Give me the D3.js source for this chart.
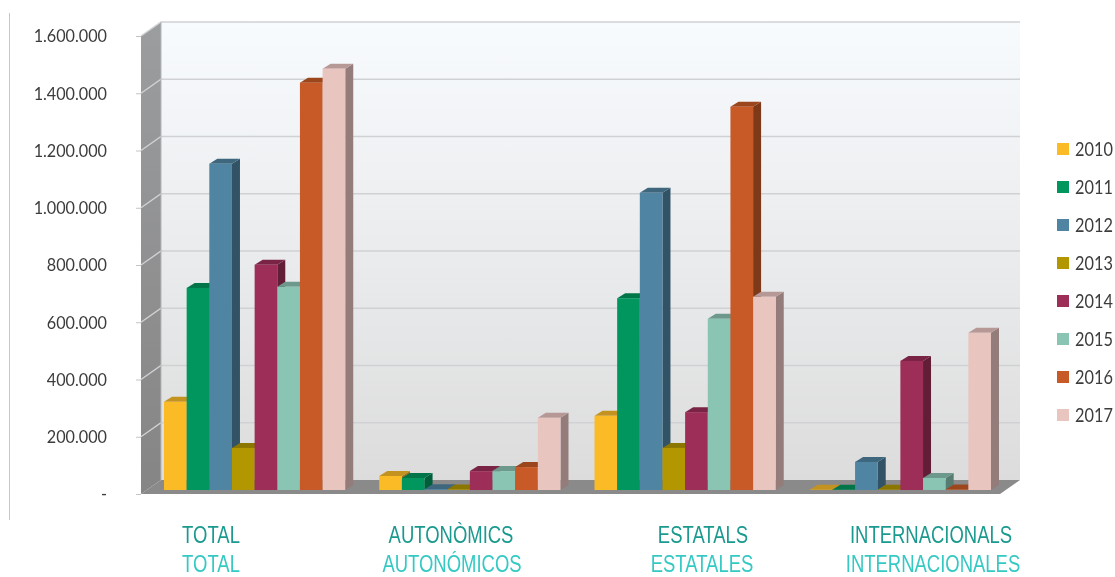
<!DOCTYPE html>
<html>
<head>
<meta charset="utf-8">
<script src="https://cdn.jsdelivr.net/npm/d3@7"></script>
<style>
  html, body { margin: 0; padding: 0; background: #fff; }
  svg { display: block; filter: blur(0.4px); }
  .tick-label { font-family: "Lato", sans-serif; font-weight: 400; fill: #3c3c3c; }
</style>
</head>
<body>
<div id="chart"></div>
<script>
// data
var years = ["2010", "2011", "2012", "2013", "2014", "2015", "2016", "2017"];
var groupsCa = ["TOTAL", "AUTONÒMICS", "ESTATALS", "INTERNACIONALS"];
var groupsEs = ["TOTAL", "AUTONÓMICOS", "ESTATALES", "INTERNACIONALES"];
var total = [308000, 706000, 1140000, 147000, 787000, 710000, 1423000, 1472000];
var autonomics = [49000, 42000, 3000, 2000, 66000, 66000, 80000, 252000];
var estatals = [259000, 670000, 1038000, 147000, 272000, 598000, 1339000, 675000];
var internacionals = [1000, 1000, 98000, 1000, 451000, 42000, 2000, 549000];
var yTicks = [0, 200000, 400000, 600000, 800000, 1000000, 1200000, 1400000, 1600000];
var colors = ["#fbbb27", "#00965e", "#4f84a2", "#b39700", "#9c2e58", "#8ac5b3", "#c85a27", "#e9c5c0"];

var values = [total, autonomics, estatals, internacionals];

var width = 1115, height = 577;
var left = 141, right = 1000, bottom = 494, top_ = 36;
var depthX = 20, depthY = 14;     // wall depth
var barDX = 8, barDY = 5;         // bar depth
var barLift = 4;                  // bars stand a little behind the front edge of the floor
var narrow = 0.9;                 // the original font is narrower than Lato
var labelNarrow = 0.77;

var svg = d3.select("#chart").append("svg")
    .attr("width", width)
    .attr("height", height);

var y = d3.scaleLinear().domain([0, 1600000]).range([bottom, top_]);
var x0 = d3.scaleBand().domain(groupsCa).range([left + 6, left + 867]).paddingInner(0.158).paddingOuter(0.079);
var x1 = d3.scaleBand().domain(years).range([0, x0.bandwidth()]);

var defs = svg.append("defs");
var wallGrad = defs.append("linearGradient").attr("id", "wall").attr("x1", 0).attr("y1", 0).attr("x2", 0).attr("y2", 1);
wallGrad.append("stop").attr("offset", "0%").attr("stop-color", "#f8fbfe");
wallGrad.append("stop").attr("offset", "100%").attr("stop-color", "#dcdcdc");
var sideGrad = defs.append("linearGradient").attr("id", "side").attr("x1", 0).attr("y1", 0).attr("x2", 0).attr("y2", 1);
sideGrad.append("stop").attr("offset", "0%").attr("stop-color", "#9c9d9f");
sideGrad.append("stop").attr("offset", "100%").attr("stop-color", "#858585");

function poly(pts) {
    return pts.map(function(p) { return p.join(","); }).join(" ");
}

// line on the far left
svg.append("line")
    .attr("x1", 9.5).attr("x2", 9.5)
    .attr("y1", 13).attr("y2", 520)
    .attr("stroke", "#c8c8c8")
    .attr("stroke-width", 1);

// walls and floor
svg.append("rect")
    .attr("x", left + depthX).attr("y", top_ - depthY)
    .attr("width", right - left).attr("height", bottom - top_)
    .attr("fill", "url(#wall)");
svg.append("polygon")
    .attr("points", poly([[left, top_], [left + depthX, top_ - depthY], [left + depthX, bottom - depthY], [left, bottom]]))
    .attr("fill", "url(#side)");
svg.append("polygon")
    .attr("points", poly([[left, bottom], [left + depthX, bottom - depthY], [right + depthX, bottom - depthY], [right, bottom]]))
    .attr("fill", "#8a8a8a");

// gridlines, with the diagonal bit on the side wall
var grid = svg.append("g");
grid.selectAll("polyline")
    .data(yTicks.slice(1))
    .enter().append("polyline")
    .attr("points", function(d) {
        return poly([[left, y(d)], [left + depthX, y(d) - depthY], [right + depthX, y(d) - depthY]]);
    })
    .attr("fill", "none")
    .attr("stroke", "#cfd1d4")
    .attr("stroke-width", 1.4);
svg.append("line")
    .attr("x1", left + depthX).attr("x2", left + depthX)
    .attr("y1", top_ - depthY).attr("y2", bottom - depthY)
    .attr("stroke", "#b5b6b8");

// y axis
var fmt = d3.formatLocale({decimal: ",", thousands: ".", grouping: [3], currency: ["", ""]}).format(",");
var axis = d3.axisLeft(y)
    .tickValues(yTicks)
    .tickSize(5)
    .tickPadding(29)
    .tickFormat(function(d) { return d === 0 ? "-" : fmt(d); });
var axisG = svg.append("g")
    .attr("transform", "translate(" + left + ",0)")
    .call(axis);
axisG.select(".domain").remove();
axisG.selectAll(".tick line").attr("stroke", "#c4c4c4");
axisG.selectAll("text")
    .attr("class", "tick-label")
    .attr("font-size", 18)
    .attr("x", -34 / narrow)
    .attr("transform", "scale(" + narrow + ",1)");

// bars
var group = svg.append("g").selectAll("g")
    .data(groupsCa)
    .enter().append("g")
    .attr("transform", function(d) { return "translate(" + x0(d) + "," + (-barLift) + ")"; });

group.each(function(g, gi) {
    var bars = d3.select(this).selectAll("g")
        .data(years.map(function(yr, i) { return {year: yr, value: values[gi][i], color: colors[i]}; }))
        .enter().append("g");

    // side face
    bars.append("polygon")
        .attr("points", function(d) {
            var a = x1(d.year) + x1.bandwidth();
            return poly([[a, y(d.value)], [a + barDX, y(d.value) - barDY], [a + barDX, y(0) - barDY], [a, y(0)]]);
        })
        .attr("fill", function(d) { return d3.color(d.color).darker(1.3); });
    // top face
    bars.append("polygon")
        .attr("points", function(d) {
            var a = x1(d.year), b = a + x1.bandwidth();
            return poly([[a, y(d.value)], [a + barDX, y(d.value) - barDY], [b + barDX, y(d.value) - barDY], [b, y(d.value)]]);
        })
        .attr("fill", function(d) { return d3.color(d.color).darker(0.7); });
    // front face
    bars.append("rect")
        .attr("x", function(d) { return x1(d.year); })
        .attr("y", function(d) { return y(d.value); })
        .attr("width", x1.bandwidth())
        .attr("height", function(d) { return y(0) - y(d.value); })
        .attr("fill", function(d) { return d.color; });
});

// category labels
var labelX = [211, 451, 703, 931];
var labelXEs = [211, 452, 702, 933];
function catLabels(names, xs, baseline, fill) {
    svg.append("g").selectAll("text")
        .data(names)
        .enter().append("text")
        .attr("transform", function(d, i) {
            return "translate(" + xs[i] + "," + baseline + ") scale(" + labelNarrow + ",1)";
        })
        .attr("text-anchor", "middle")
        .attr("font-family", "'Liberation Sans', sans-serif")
        .attr("font-size", 24)
        .attr("fill", fill)
        .text(function(d) { return d; });
}
catLabels(groupsCa, labelX, 543, "#1a9a8f");
catLabels(groupsEs, labelXEs, 572, "#35c9c3");

// legend
var legendY = d3.scalePoint().domain(years).range([149, 415]);
var legend = svg.append("g").selectAll("g")
    .data(years)
    .enter().append("g")
    .attr("transform", function(d) { return "translate(1057," + legendY(d) + ")"; });
legend.append("rect")
    .attr("x", 0).attr("y", -6)
    .attr("width", 12).attr("height", 12)
    .attr("fill", function(d, i) { return colors[i]; });
legend.append("text")
    .attr("class", "tick-label")
    .attr("transform", "translate(18,7) scale(0.86,1)")
    .attr("font-size", 19)
    .text(function(d) { return d; });
</script>
</body>
</html>
